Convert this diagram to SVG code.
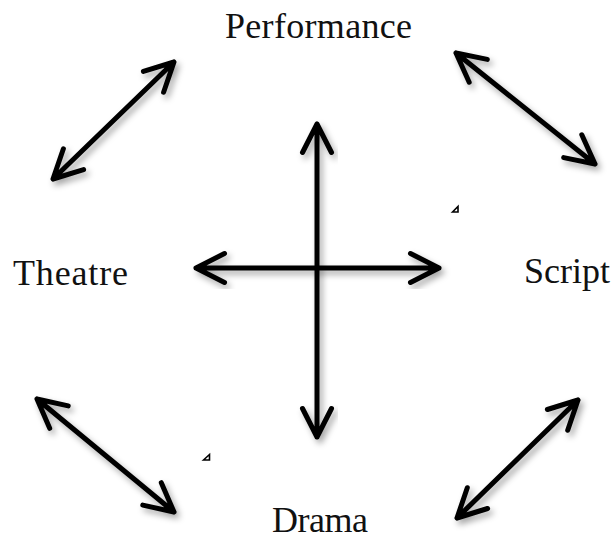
<svg xmlns="http://www.w3.org/2000/svg" width="613" height="541" viewBox="0 0 613 541">
<defs>
<filter id="sh" x="-20%" y="-20%" width="140%" height="140%">
<feDropShadow dx="3" dy="4" stdDeviation="3" flood-color="#000" flood-opacity="0.35"/>
</filter>
<style>
.lbl{font-family:"Liberation Serif","Times New Roman",serif;font-size:36px;fill:#111;}
.arr{fill:none;stroke:#000;stroke-width:5;stroke-linecap:round;stroke-linejoin:round;filter:url(#sh);}
.tri{fill:#fff;stroke:#000;stroke-width:1.6;stroke-linejoin:miter;}
</style>
</defs>
<rect width="613" height="541" fill="#fff"/>
<g id="performance"><text class="lbl" x="225" y="38" textLength="187" lengthAdjust="spacing">Performance</text></g>
<g id="theatre"><text class="lbl" x="13" y="285" textLength="115" lengthAdjust="spacing">Theatre</text></g>
<g id="script"><text class="lbl" x="524" y="283" textLength="86" lengthAdjust="spacing">Script</text></g>
<g id="drama"><text class="lbl" x="272" y="532" textLength="96" lengthAdjust="spacing">Drama</text></g>
<g id="connectors">
<path class="arr" d="M53,179 L174,62 M143.4,71.4 L174,62 L163.6,92.2 M83.6,169.6 L53,179 L63.4,148.8"/>
<path class="arr" d="M456,53 L595,164 M581.8,134.8 L595,164 L563.7,157.6 M469.2,82.2 L456,53 L487.3,59.4"/>
<path class="arr" d="M37,399 L174,512 M161.3,482.7 L174,512 L142.8,505.1 M49.7,428.3 L37,399 L68.2,405.9"/>
<path class="arr" d="M578,400 L457,518 M487.6,508.5 L457,518 L467.3,487.7 M547.4,409.5 L578,400 L567.7,430.3"/>
<path class="arr" d="M317,124 L317,437 M302.5,152.5 L317,124 L331.5,152.5 M302.5,408.5 L317,437 L331.5,408.5"/>
<path class="arr" d="M196,268 L439,268 M224.5,253.5 L196,268 L224.5,282.5 M410.5,253.5 L439,268 L410.5,282.5"/>
</g>
<polygon class="tri" points="452.5,212 458,206.5 458,212"/>
<polygon class="tri" points="203.5,460 209.5,454.5 209.5,460"/>
</svg>
